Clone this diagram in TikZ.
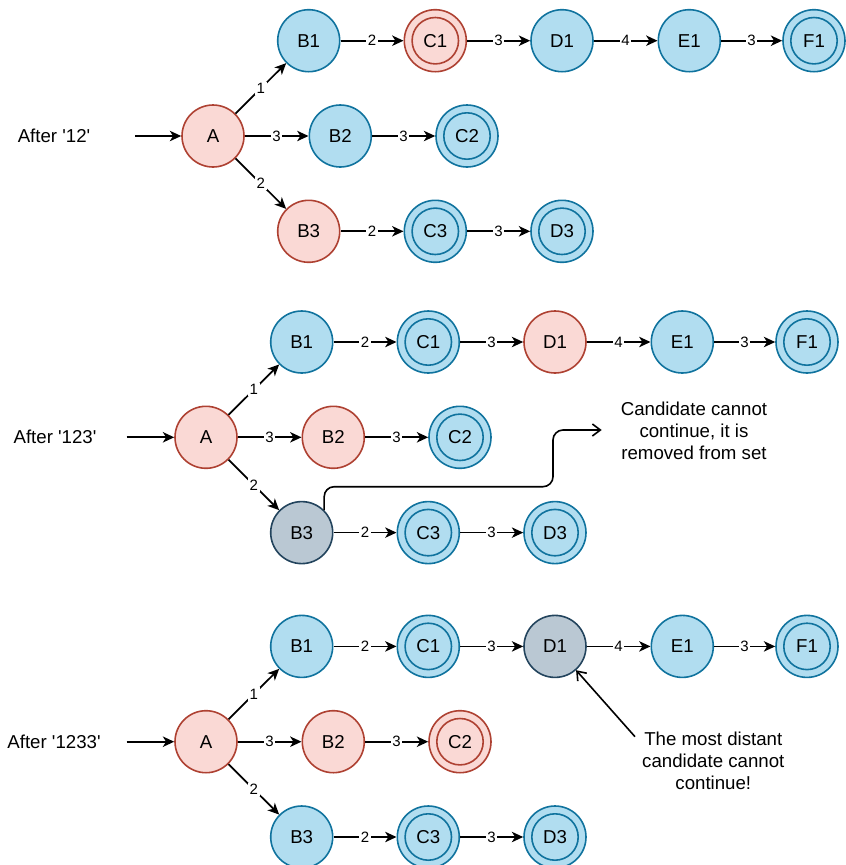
\documentclass[tikz,border=0pt]{standalone}
\usepackage{fontspec}
\setmainfont{Liberation Sans}
\usetikzlibrary{arrows.meta}

\definecolor{blueFill}{HTML}{B1DDF0}
\definecolor{blueLine}{HTML}{10739E}
\definecolor{redFill}{HTML}{FAD9D5}
\definecolor{redLine}{HTML}{AE4132}
\definecolor{greyFill}{HTML}{BAC8D3}
\definecolor{greyLine}{HTML}{23445D}

\tikzset{
  state/.style={circle, minimum size=46.5pt, inner sep=0pt, line width=1.2pt,
    font=\fontsize{14}{16.5}\selectfont},
  bluestate/.style={state, fill=blueFill, draw=blueLine},
  redstate/.style={state, fill=redFill, draw=redLine},
  greystate/.style={state, fill=greyFill, draw=greyLine},
  final/.style={path picture={\draw[line width=1.2pt, draw=#1]
      (path picture bounding box.center) circle[radius=17.4pt];}},
  link/.style={line width=1.3pt, -{Stealth[length=8.5pt, width=7.8pt, inset=2.4pt]}},
  lbl/.style={fill=white, inner sep=1.2pt, font=\fontsize{11.25}{13}\selectfont},
  txt/.style={font=\fontsize{14}{16.3}\selectfont, align=center, inner sep=0pt},
  notearrow/.style={line width=1.2pt, -{Straight Barb[length=6pt, width=9pt]}},
}

% transitions shared by the three automaton snapshots
\newcommand\chainedges[1]{%
  \draw[link] (#1A) -- node[lbl]{1} (#1B1);
  \draw[link] (#1A) -- node[lbl]{3} (#1B2);
  \draw[link] (#1A) -- node[lbl]{2} (#1B3);
  \draw[link] (#1B1) -- node[lbl]{2} (#1C1);
  \draw[link] (#1C1) -- node[lbl]{3} (#1D1);
  \draw[link] (#1D1) -- node[lbl]{4} (#1E1);
  \draw[link] (#1E1) -- node[lbl]{3} (#1F1);
  \draw[link] (#1B2) -- node[lbl]{3} (#1C2);
  \draw[link] (#1B3) -- node[lbl]{2} (#1C3);
  \draw[link] (#1C3) -- node[lbl]{3} (#1D3);
}

\begin{document}
\begin{tikzpicture}[x=0.75pt, y=-0.75pt]
\useasboundingbox (0,0) rectangle (846,865);

% ---------- after '12' ----------
\node[txt] (p1lbl) at (54,136) {After \textquotesingle 12\textquotesingle};
\coordinate (p1in) at (135,136);
\begin{scope}[shift={(213,136)}]
  \node[redstate] (p1A) at (0,0) {A};
  \node[bluestate] (p1B1) at (95.7,-95.3) {B1};
  \node[redstate, final=redLine] (p1C1) at (222.3,-95.3) {C1};
  \node[bluestate] (p1D1) at (349,-95.3) {D1};
  \node[bluestate] (p1E1) at (476.3,-95.3) {E1};
  \node[bluestate, final=blueLine] (p1F1) at (601,-95.3) {F1};
  \node[bluestate] (p1B2) at (127.3,0) {B2};
  \node[bluestate, final=blueLine] (p1C2) at (254,0) {C2};
  \node[redstate] (p1B3) at (95.7,95.3) {B3};
  \node[bluestate, final=blueLine] (p1C3) at (222.3,95.3) {C3};
  \node[bluestate, final=blueLine] (p1D3) at (349,95.3) {D3};
\end{scope}
\draw[link] (p1in) -- (p1A);
\chainedges{p1}

% ---------- after '123' ----------
\node[txt] (p2lbl) at (55,437.3) {After \textquotesingle 123\textquotesingle};
\coordinate (p2in) at (126.7,437.3);
\begin{scope}[shift={(206,437.3)}]
  \node[redstate] (p2A) at (0,0) {A};
  \node[bluestate] (p2B1) at (95.7,-95.3) {B1};
  \node[bluestate, final=blueLine] (p2C1) at (222.3,-95.3) {C1};
  \node[redstate] (p2D1) at (349,-95.3) {D1};
  \node[bluestate] (p2E1) at (476.3,-95.3) {E1};
  \node[bluestate, final=blueLine] (p2F1) at (601,-95.3) {F1};
  \node[redstate] (p2B2) at (127.3,0) {B2};
  \node[bluestate, final=blueLine] (p2C2) at (254,0) {C2};
  \node[greystate] (p2B3) at (95.7,95.3) {B3};
  \node[bluestate, final=blueLine] (p2C3) at (222.3,95.3) {C3};
  \node[bluestate, final=blueLine] (p2D3) at (349,95.3) {D3};
\end{scope}
\draw[link] (p2in) -- (p2A);
\chainedges{p2}

\node[txt] (note1) at (694,431) {Candidate cannot\\continue, it is\\removed from set};
\coordinate (note1end) at (601.7,430);
\draw[notearrow, rounded corners=7.5pt] (p2B3.north east) |- (553,486.7) |- (note1end);

% ---------- after '1233' ----------
\node[txt] (p3lbl) at (54,741.7) {After \textquotesingle 1233\textquotesingle};
\coordinate (p3in) at (126.7,741.7);
\begin{scope}[shift={(206,741.7)}]
  \node[redstate] (p3A) at (0,0) {A};
  \node[bluestate] (p3B1) at (95.7,-95.3) {B1};
  \node[bluestate, final=blueLine] (p3C1) at (222.3,-95.3) {C1};
  \node[greystate] (p3D1) at (349,-95.3) {D1};
  \node[bluestate] (p3E1) at (476.3,-95.3) {E1};
  \node[bluestate, final=blueLine] (p3F1) at (601,-95.3) {F1};
  \node[redstate] (p3B2) at (127.3,0) {B2};
  \node[redstate, final=redLine] (p3C2) at (254,0) {C2};
  \node[bluestate] (p3B3) at (95.7,95.3) {B3};
  \node[bluestate, final=blueLine] (p3C3) at (222.3,95.3) {C3};
  \node[bluestate, final=blueLine] (p3D3) at (349,95.3) {D3};
\end{scope}
\draw[link] (p3in) -- (p3A);
\chainedges{p3}

\node[txt] (note2) at (713.3,761) {The most distant\\candidate cannot\\continue!};
\coordinate (note2start) at (635,736.7);
\draw[notearrow] (note2start) -- (p3D1);

\end{tikzpicture}
\end{document}
